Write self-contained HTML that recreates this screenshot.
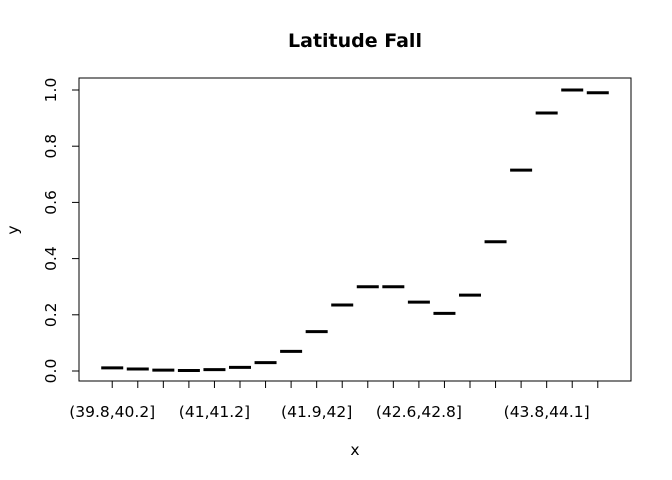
<!DOCTYPE html>
<html><head><meta charset="utf-8"><style>
body{margin:0;background:#fff;}
svg{display:block;font-family:"DejaVu Sans","Liberation Sans",sans-serif;}
</style></head><body>
<svg id="chart" width="672" height="480">
<text x="355" y="47" text-anchor="middle" font-weight="bold" font-size="19">Latitude Fall</text>
<rect x="79" y="78" width="552" height="303" fill="none" stroke="#000"/>
<text x="355" y="455" text-anchor="middle" font-size="15.5">x</text>
<text x="18" y="230" text-anchor="middle" font-size="15.5" transform="rotate(-90 18 230)">y</text>
<g id="marks"></g>
</svg>
<script>
const categories=["(39.8,40.2]","(40.2,40.5]","(40.5,40.7]","(40.7,40.8]","(41,41.2]","(41.2,41.4]","(41.4,41.6]","(41.6,41.8]","(41.9,42]","(42,42.2]","(42.2,42.4]","(42.4,42.6]","(42.6,42.8]","(42.8,43]","(43,43.2]","(43.2,43.4]","(43.4,43.8]","(43.8,44.1]","(44.1,44.5]","(44.5,45]"];
const values=[0.011,0.007,0.003,0.002,0.005,0.013,0.03,0.07,0.14,0.235,0.30,0.30,0.245,0.205,0.27,0.46,0.715,0.918,1.0,0.99];
const shownLabels=[0,4,8,12,17];
const yTicks=[0,0.2,0.4,0.6,0.8,1.0];
const tickLabels=["0.0","0.2","0.4","0.6","0.8","1.0"];
const ns="http://www.w3.org/2000/svg";
const g=document.getElementById('marks');
const n=categories.length;
const x=i=>79+(i+1-(0.5-0.04*n))*552/(n*1.08);
const y=v=>371-v*281;
function mk(t,a){const e=document.createElementNS(ns,t);for(const k in a)e.setAttribute(k,a[k]);g.appendChild(e);return e;}
yTicks.forEach((v,i)=>{
 const l=mk('line',{x1:72,x2:79,y1:y(v),y2:y(v),stroke:'#000'});
 
 
 const t=mk('text',{x:51,y:y(v),'font-size':15.5,'text-anchor':'middle','dominant-baseline':'central',transform:`rotate(-90 51 ${y(v)})`});
 t.textContent=tickLabels[i];
 
 
});
categories.forEach((c,i)=>{
 const l=mk('line',{x1:x(i),x2:x(i),y1:381,y2:388,stroke:'#000'});
 
 
 if(shownLabels.includes(i)){
  const t=mk('text',{x:x(i),y:417,'font-size':15.5,'text-anchor':'middle'});
  t.textContent=c;
  
  
 }
 const m=mk('line',{x1:x(i)-11,x2:x(i)+11,y1:y(values[i]),y2:y(values[i]),stroke:'#000','stroke-width':3});
 
 
});
</script>
</body></html>
